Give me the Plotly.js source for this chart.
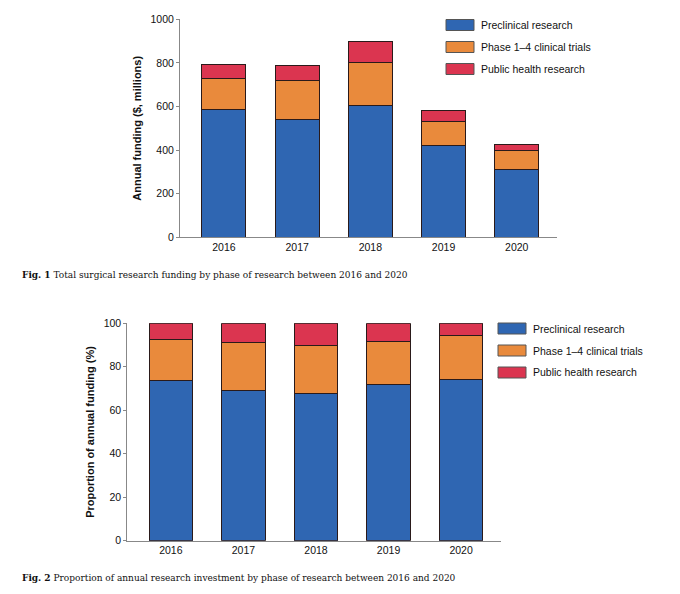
<!DOCTYPE html>
<html>
<head>
<meta charset="utf-8">
<script src="https://cdn.plot.ly/plotly-3.0.1.min.js"></script>
<style>
  html, body { margin: 0; padding: 0; background: #fff; }
  #chart { width: 680px; height: 594px; }
</style>
</head>
<body>
<div id="chart"></div>
<script>
// Fig. 1 - annual funding, $ millions
const years = ['2016', '2017', '2018', '2019', '2020'];
const preclinicalFunding = [584, 541, 606, 419, 312];
const clinicalFunding = [144, 176, 195, 113, 86];
const publicHealthFunding = [63, 69, 95, 51, 26];

// Fig. 2 - proportion of annual funding, %
const preclinicalShare = [73.9, 69.0, 67.9, 71.9, 74.1];
const clinicalShare = [18.6, 22.3, 21.7, 19.7, 20.4];
const publicHealthShare = [7.5, 8.7, 10.4, 8.4, 5.5];

const seriesNames = ['Preclinical research', 'Phase 1\u20134 clinical trials', 'Public health research'];
const fig1Ticks = [0, 200, 400, 600, 800, 1000];
const fig2Ticks = [0, 20, 40, 60, 80, 100];

const W = 680, H = 594;
const colors = ['#2f66b2', '#e98a3c', '#db3550'];
const px = x => x / W;
const py = y => 1 - y / H;
const sans = 'Liberation Sans, Arial, sans-serif';

function barTrace(name, values, i, xa, ya) {
  return {
    type: 'bar',
    name,
    x: years,
    y: values,
    xaxis: xa,
    yaxis: ya,
    marker: { color: colors[i], line: { color: '#2a1a1a', width: 1 } },
    showlegend: false,
    hoverinfo: 'none',
  };
}

const data = [
  barTrace(seriesNames[0], preclinicalFunding, 0, 'x', 'y'),
  barTrace(seriesNames[1], clinicalFunding, 1, 'x', 'y'),
  barTrace(seriesNames[2], publicHealthFunding, 2, 'x', 'y'),
  barTrace(seriesNames[0], preclinicalShare, 0, 'x2', 'y2'),
  barTrace(seriesNames[1], clinicalShare, 1, 'x2', 'y2'),
  barTrace(seriesNames[2], publicHealthShare, 2, 'x2', 'y2'),
];

const xBase = {
  type: 'category',
  range: [-0.6, 4.55],
  showline: true, linecolor: '#888', linewidth: 1,
  ticks: '', showgrid: false, zeroline: false,
  tickfont: { family: sans, size: 10.5, color: '#111' },
  fixedrange: true,
};
const yBase = {
  showline: true, linecolor: '#888', linewidth: 1,
  ticks: 'outside', ticklen: 3, tickcolor: '#888',
  showgrid: false, zeroline: false,
  tickfont: { family: sans, size: 10.5, color: '#111' },
  fixedrange: true,
};

// legends drawn as boxes + labels, one per figure
const shapes = [];
const annotations = [];
function addLegend(left, top) {
  seriesNames.forEach((name, i) => {
    const cy = top + i * 22;
    shapes.push({
      type: 'rect', xref: 'paper', yref: 'paper',
      x0: px(left), x1: px(left + 28), y0: py(cy - 5.5), y1: py(cy + 5.5),
      fillcolor: colors[i], line: { color: '#555', width: 1 },
    });
    annotations.push({
      xref: 'paper', yref: 'paper', x: px(left + 33), y: py(cy),
      xanchor: 'left', yanchor: 'middle', showarrow: false,
      text: name, font: { family: sans, size: 10.5, color: '#111' },
    });
  });
}
addLegend(446, 25);
addLegend(498, 328.5);

function addCaption(num, text, y) {
  annotations.push({
    xref: 'paper', yref: 'paper', x: px(20), y: py(y),
    xanchor: 'left', yanchor: 'middle', showarrow: false,
    text: '<b>Fig. ' + num + '</b> ' + text,
    font: { family: 'DejaVu Serif, serif', size: 9, color: '#111' },
  });
}
addCaption(1, 'Total surgical research funding by phase of research between 2016 and 2020', 275);
addCaption(2, 'Proportion of annual research investment by phase of research between 2016 and 2020', 578);

const titleFont = { family: sans, size: 11, color: '#111' };

const layout = {
  width: W,
  height: H,
  margin: { l: 0, r: 0, t: 0, b: 0 },
  barmode: 'stack',
  bargap: 0.4,
  paper_bgcolor: '#fff',
  plot_bgcolor: '#fff',
  xaxis: Object.assign({}, xBase, { domain: [px(180), px(557)], anchor: 'y' }),
  yaxis: Object.assign({}, yBase, {
    domain: [py(237.3), py(19.3)], anchor: 'x',
    range: [0, 1000], tickvals: fig1Ticks,
    title: { text: '<b>Annual funding ($, millions)</b>', font: titleFont, standoff: 6 },
  }),
  xaxis2: Object.assign({}, xBase, { domain: [px(127.3), px(501)], anchor: 'y2' }),
  yaxis2: Object.assign({}, yBase, {
    domain: [py(540.7), py(323.3)], anchor: 'x2',
    range: [0, 100], tickvals: fig2Ticks,
    title: { text: '<b>Proportion of annual funding (%)</b>', font: titleFont, standoff: 6 },
  }),
  shapes,
  annotations,
};

Plotly.newPlot('chart', data, layout, { displayModeBar: false, staticPlot: true });
</script>
</body>
</html>
